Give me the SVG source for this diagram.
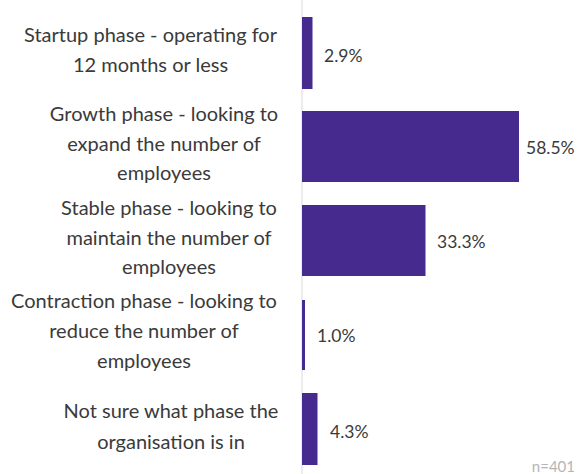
<svg xmlns="http://www.w3.org/2000/svg" width="581" height="474" viewBox="0 0 581 474">
<style>
.lbl{font-family:Lato,"Open Sans","Liberation Sans",sans-serif;font-size:20px;fill:#3a3a3a;text-anchor:middle}
.val{font-family:Lato,"Open Sans","Liberation Sans",sans-serif;font-size:17.5px;fill:#3a3a3a}
.bar{fill:#462a8d}
.note{font-family:Lato,"Open Sans","Liberation Sans",sans-serif;font-size:15px;fill:#b5b5b5}
</style>
<rect width="581" height="474" fill="#ffffff"/>
<g id="axis"><line x1="302" y1="0" x2="302" y2="474" stroke="#d9d9d9" stroke-width="1"/></g>
<g id="startup">
<rect class="bar" x="302" y="17" width="10.5" height="72"/>
<text class="lbl" x="150.5" y="42">Startup phase - operating for</text>
<text class="lbl" x="150.5" y="72">12 months or less</text>
<text class="val" x="324" y="62">2.9%</text>
</g>
<g id="growth">
<rect class="bar" x="302" y="111" width="217" height="71"/>
<text class="lbl" x="164" y="121">Growth phase - looking to</text>
<text class="lbl" x="164" y="151">expand the number of</text>
<text class="lbl" x="164" y="180">employees</text>
<text class="val" x="526" y="154">58.5%</text>
</g>
<g id="stable">
<rect class="bar" x="302" y="205" width="123.5" height="71"/>
<text class="lbl" x="169" y="215">Stable phase - looking to</text>
<text class="lbl" x="169" y="245">maintain the number of</text>
<text class="lbl" x="169" y="274">employees</text>
<text class="val" x="437" y="248">33.3%</text>
</g>
<g id="contraction">
<rect class="bar" x="302" y="300" width="3" height="70"/>
<text class="lbl" x="144" y="308">Contraction phase - looking to</text>
<text class="lbl" x="144" y="338">reduce the number of</text>
<text class="lbl" x="144" y="368">employees</text>
<text class="val" x="317" y="342">1.0%</text>
</g>
<g id="notsure">
<rect class="bar" x="302" y="393" width="15.5" height="72"/>
<text class="lbl" x="171" y="418">Not sure what phase the</text>
<text class="lbl" x="171" y="449">organisation is in</text>
<text class="val" x="330" y="438">4.3%</text>
</g>
<g id="note"><text class="note" x="575" y="472" text-anchor="end">n=401</text></g>
</svg>
